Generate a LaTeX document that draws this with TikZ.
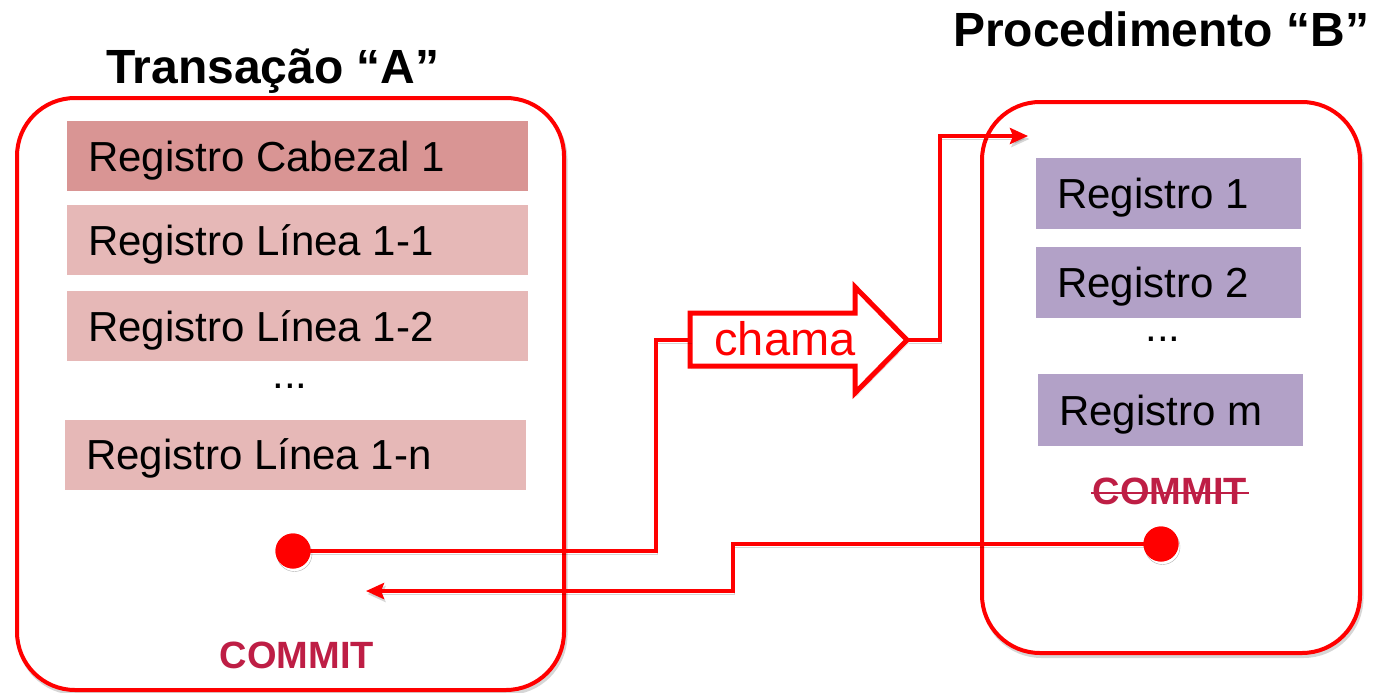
\documentclass[tikz,border=0pt]{standalone}
\usepackage{fontspec}
\setmainfont{Liberation Sans}
\usetikzlibrary{arrows.meta,calc}
\definecolor{cabc}{HTML}{D99594}
\definecolor{linc}{HTML}{E6B8B7}
\definecolor{purc}{HTML}{B2A1C7}
\definecolor{cmtc}{HTML}{BE1E45}
\definecolor{redc}{HTML}{FF0000}
\tikzset{
  shad/.style={preaction={draw=black,opacity=0.16,transform canvas={xshift=1.5pt,yshift=-3pt}}},
  bigbox/.style={draw=redc,line width=4pt,rounded corners=58pt,fill=white,shad},
  rowbox/.style={draw=none,minimum height=70pt,inner sep=0pt},
  rowtxt/.style={anchor=base west,inner sep=0pt,font=\fontsize{42}{50}\selectfont},
  dotstxt/.style={anchor=base,inner sep=0pt,font=\fontsize{42}{50}\selectfont},
  titletxt/.style={anchor=base west,inner sep=0pt,font=\fontsize{48}{58}\selectfont\bfseries},
  committxt/.style={anchor=base,inner sep=0pt,text=cmtc,font=\fontsize{38}{46}\selectfont\bfseries},
  conn/.style={draw=redc,line width=4pt,shad},
  tip/.style={-{Stealth[length=18pt,width=16pt,inset=3pt]}},
  reddot/.style={circle,fill=redc,minimum size=35pt,inner sep=0pt,shad},
}
\begin{document}
\begin{tikzpicture}[x=1pt,y=-1pt]
\useasboundingbox (0,0) rectangle (1381,693);
% titles
\node[titletxt] (tA) at (106,83) {Transação “A”};
\node[titletxt] (tB) at (953,47) {Procedimento “B”};
% big boxes
\node[bigbox,minimum width=547pt,minimum height=592pt] (boxA) at (290.5,394) {};
\node[bigbox,minimum width=378pt,minimum height=551pt] (boxB) at (1171,377.5) {};
% left rows
\node[rowbox,fill=cabc,minimum width=461pt] (c1) at (297.5,156) {};
\node[rowbox,fill=linc,minimum width=461pt] (l11) at (297.5,240) {};
\node[rowbox,fill=linc,minimum width=461pt] (l12) at (297.5,326) {};
\node[rowbox,fill=linc,minimum width=461pt] (l1n) at (295.5,454.5) {};
\node[rowtxt] (c1t) at ($(c1.west)+(21,15)$) {Registro Cabezal 1};
\node[rowtxt] (l11t) at ($(l11.west)+(21,15)$) {Registro Línea 1-1};
\node[rowtxt] (l12t) at ($(l12.west)+(21,15)$) {Registro Línea 1-2};
\node[rowtxt] (l1nt) at ($(l1n.west)+(21,15)$) {Registro Línea 1-n};
\node[dotstxt] (dA) at (290,388) {...};
% right rows
\node[rowbox,fill=purc,minimum width=265pt,minimum height=71pt] (r1) at (1168.5,193.5) {};
\node[rowbox,fill=purc,minimum width=265pt,minimum height=71pt] (r2) at (1168.5,282.5) {};
\node[rowbox,fill=purc,minimum width=265pt,minimum height=72pt] (rm) at (1170.5,410) {};
\node[rowtxt] (r1t) at ($(r1.west)+(21,15)$) {Registro 1};
\node[rowtxt] (r2t) at ($(r2.west)+(21,15)$) {Registro 2};
\node[rowtxt] (rmt) at ($(rm.west)+(21,15)$) {Registro m};
\node[dotstxt] (dB) at (1163,341) {...};
% commits
\node[committxt] (cmA) at (297,668) {COMMIT};
\node[committxt] (cmB) at (1170,504) {COMMIT};
\draw[draw=cmtc,line width=2.2pt] ($(cmB.west)+(-2,2)$) -- ($(cmB.east)+(2,2)$);
% chama arrow
\coordinate (chTail) at (690,340);
\coordinate (chTip) at (907,340);
\draw[draw=redc,line width=5pt,fill=white,miter limit=10,shad]
  (690,313) -- (855,313) -- (855,287) -- (chTip) -- (855,393) -- (855,366) -- (690,366) -- cycle;
\node[anchor=base,inner sep=0pt,text=redc,font=\fontsize{47}{56}\selectfont] (chT) at (785,355) {chama};
% connectors
\coordinate (bIn) at (1028,136);
\coordinate (aIn) at (366,591);
\node[reddot] (dotA) at (293,551) {};
\node[reddot] (dotB) at (1161,544) {};
\draw[conn] (dotA.center) -| ([xshift=-34pt]chTail) -- (chTail);
\draw[conn,tip] (chTip) -- ++(33,0) |- (bIn);
\draw[conn,tip] (dotB.center) -| ([xshift=367pt]aIn) -- (aIn);
\node[reddot] (dotA2) at (dotA) {};
\node[reddot] (dotB2) at (dotB) {};
\end{tikzpicture}
\end{document}
